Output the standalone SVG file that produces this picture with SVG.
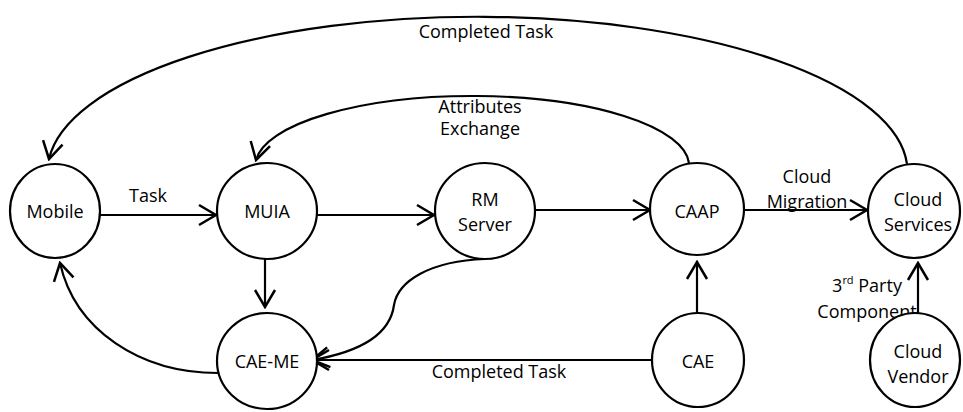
<svg xmlns="http://www.w3.org/2000/svg" width="963" height="412" viewBox="0 0 963 412">
<style>
.node ellipse{fill:#fff;stroke:#000;stroke-width:2.2}
text{font-family:"Open Sans","Liberation Sans",sans-serif;font-size:18px;fill:#000;text-anchor:middle}
.edge{fill:none;stroke:#000;stroke-width:2.2;marker-end:url(#arr)}
</style>
<defs>
<marker id="arr" viewBox="-20 -12 22 24" markerWidth="22" markerHeight="24" refX="0" refY="0" orient="auto" markerUnits="userSpaceOnUse">
<path d="M-17,-10 L0,0 L-17,10" fill="none" stroke="#000" stroke-width="2.5"/>
</marker>
</defs>
<rect width="963" height="412" fill="#fff"/>
<g id="connectors">
<path class="edge" d="M907,164 A430,155 0 0 0 49,159"/>
<path class="edge" d="M689,163 A217,70 0 0 0 256,160"/>
<path class="edge" d="M100,215 L216,215"/>
<path class="edge" d="M317,215 L434,215"/>
<path class="edge" d="M535,210 L650,210"/>
<path class="edge" d="M744,210 L867,210"/>
<path class="edge" d="M265,259 L265,307"/>
<path class="edge" d="M218,373 C140,373 75,330 60,263"/>
<path class="edge" d="M485,259 C430,261 398,281 394,305 C390,335 360,352 312,360"/>
<path class="edge" d="M652,360 L312,360"/>
<path class="edge" d="M697,313 L697,262"/>
<path class="edge" d="M918,313 L918,263"/>
<text x="486" y="38">Completed Task</text>
<text x="480" y="113">Attributes</text>
<text x="480" y="135">Exchange</text>
<text x="148" y="202">Task</text>
<text x="807" y="183">Cloud</text>
<text x="807" y="208">Migration</text>
<text x="499" y="378">Completed Task</text>
<text x="867" y="292">3<tspan font-size="11" dy="-8">rd</tspan><tspan dy="8"> Party</tspan></text>
<text x="867" y="318">Component</text>
</g>
<g id="mobile" class="node"><ellipse cx="55" cy="211" rx="45" ry="47"/><text x="55" y="218">Mobile</text></g>
<g id="muia" class="node"><ellipse cx="267" cy="211" rx="50" ry="48"/><text x="267" y="218">MUIA</text></g>
<g id="rmserver" class="node"><ellipse cx="485" cy="211" rx="50" ry="48"/><text x="485" y="206">RM</text><text x="485" y="231">Server</text></g>
<g id="caap" class="node"><ellipse cx="697" cy="209" rx="47" ry="46"/><text x="697" y="218">CAAP</text></g>
<g id="cloudservices" class="node"><ellipse cx="914" cy="211" rx="46" ry="47"/><text x="918" y="206">Cloud</text><text x="918" y="231">Services</text></g>
<g id="caeme" class="node"><ellipse cx="267" cy="361" rx="50" ry="48"/><text x="267" y="368">CAE-ME</text></g>
<g id="cae" class="node"><ellipse cx="698" cy="360" rx="46" ry="47"/><text x="698" y="368">CAE</text></g>
<g id="cloudvendor" class="node"><ellipse cx="915" cy="360" rx="45" ry="47"/><text x="918" y="358">Cloud</text><text x="918" y="383">Vendor</text></g>
</svg>
